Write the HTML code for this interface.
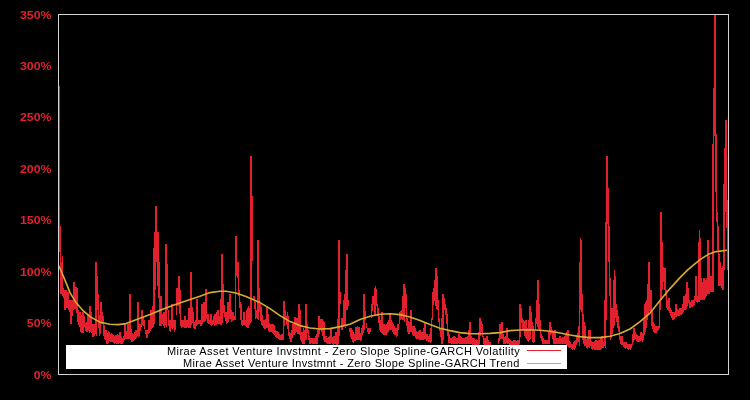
<!DOCTYPE html>
<html><head><meta charset="utf-8"><title>chart</title>
<style>
html,body{margin:0;padding:0;background:#000;}
body{width:750px;height:400px;overflow:hidden;position:relative;font-family:"Liberation Sans",sans-serif;}
svg{position:absolute;left:0;top:0;}
.yl{will-change:transform;position:absolute;left:0;width:51.5px;text-align:right;color:#e3202d;font-weight:bold;font-size:11px;line-height:14px;height:14px;transform:scaleX(1.12);transform-origin:100% 50%;}
.lg{position:absolute;left:66px;top:345px;width:501px;height:24px;background:#fff;}
.lt{position:absolute;right:47px;white-space:nowrap;color:#000;font-size:11px;line-height:13px;letter-spacing:0.40px;will-change:transform;}
</style></head><body>
<svg width="750" height="400" viewBox="0 0 750 400">
<defs><clipPath id="c"><rect x="58" y="14" width="671" height="361"/></clipPath></defs>
<g clip-path="url(#c)" shape-rendering="crispEdges">
<path d="M58 86h1v164h-1zM59 86h1v166h-1zM60 226h1v68h-1zM61 262h1v32h-1zM62 256h1v40h-1zM63 288h1v10h-1zM64 290h1v20h-1zM65 290h1v20h-1zM66 290h1v18h-1zM67 292h1v16h-1zM68 292h1v18h-1zM69 300h1v12h-1zM70 300h1v24h-1zM71 300h1v24h-1zM72 300h1v16h-1zM73 282h1v28h-1zM74 282h1v27h-1zM75 287h1v22h-1zM76 287h1v26h-1zM77 288h1v34h-1zM78 310h1v15h-1zM79 312h1v15h-1zM80 312h1v20h-1zM81 315h1v18h-1zM82 312h1v21h-1zM83 312h1v21h-1zM84 316h1v11h-1zM85 323h1v8h-1zM86 322h1v10h-1zM87 314h1v18h-1zM88 314h1v17h-1zM89 306h1v27h-1zM90 306h1v26h-1zM91 312h1v21h-1zM92 324h1v13h-1zM93 324h1v13h-1zM94 324h1v12h-1zM95 262h1v72h-1zM96 262h1v74h-1zM97 276h1v34h-1zM98 294h1v34h-1zM99 315h1v21h-1zM100 302h1v32h-1zM101 302h1v22h-1zM102 312h1v12h-1zM103 316h1v20h-1zM104 325h1v14h-1zM105 330h1v10h-1zM106 330h1v14h-1zM107 333h1v11h-1zM108 331h1v12h-1zM109 332h1v9h-1zM110 334h1v8h-1zM111 333h1v9h-1zM112 334h1v8h-1zM113 335h1v8h-1zM114 336h1v8h-1zM115 335h1v8h-1zM116 335h1v9h-1zM117 334h1v10h-1zM118 335h1v9h-1zM119 332h1v11h-1zM120 332h1v12h-1zM121 336h1v8h-1zM122 338h1v6h-1zM123 336h1v6h-1zM124 324h1v16h-1zM125 324h1v15h-1zM126 331h1v8h-1zM127 324h1v15h-1zM128 324h1v15h-1zM129 294h1v45h-1zM130 294h1v46h-1zM131 329h1v13h-1zM132 333h1v9h-1zM133 334h1v7h-1zM134 332h1v8h-1zM135 330h1v9h-1zM136 330h1v8h-1zM137 302h1v34h-1zM138 302h1v35h-1zM139 324h1v12h-1zM140 324h1v7h-1zM141 310h1v17h-1zM142 310h1v15h-1zM143 317h1v9h-1zM144 320h1v9h-1zM145 330h1v4h-1zM146 330h1v8h-1zM147 330h1v8h-1zM148 320h1v14h-1zM149 320h1v13h-1zM150 310h1v21h-1zM151 310h1v19h-1zM152 306h1v22h-1zM153 248h1v79h-1zM154 232h1v92h-1zM155 206h1v84h-1zM156 206h1v56h-1zM157 232h1v54h-1zM158 232h1v66h-1zM159 262h1v64h-1zM160 296h1v30h-1zM161 296h1v30h-1zM162 314h1v10h-1zM163 312h1v14h-1zM164 312h1v16h-1zM165 244h1v81h-1zM166 244h1v83h-1zM167 264h1v46h-1zM168 310h1v16h-1zM169 320h1v11h-1zM170 320h1v12h-1zM171 304h1v24h-1zM172 304h1v25h-1zM173 320h1v8h-1zM174 320h1v12h-1zM175 320h1v10h-1zM176 288h1v27h-1zM177 288h1v18h-1zM178 276h1v30h-1zM179 276h1v38h-1zM180 290h1v36h-1zM181 320h1v8h-1zM182 320h1v7h-1zM183 320h1v7h-1zM184 316h1v12h-1zM185 316h1v12h-1zM186 320h1v8h-1zM187 320h1v7h-1zM188 308h1v20h-1zM189 308h1v20h-1zM190 272h1v56h-1zM191 272h1v53h-1zM192 307h1v16h-1zM193 312h1v16h-1zM194 322h1v7h-1zM195 320h1v9h-1zM196 299h1v27h-1zM197 299h1v26h-1zM198 320h1v4h-1zM199 320h1v4h-1zM200 320h1v6h-1zM201 304h1v22h-1zM202 304h1v20h-1zM203 302h1v20h-1zM204 302h1v20h-1zM205 289h1v32h-1zM206 289h1v30h-1zM207 314h1v9h-1zM208 314h1v10h-1zM209 320h1v4h-1zM210 314h1v11h-1zM211 314h1v12h-1zM212 320h1v5h-1zM213 316h1v8h-1zM214 314h1v12h-1zM215 314h1v11h-1zM216 312h1v13h-1zM217 310h1v14h-1zM218 310h1v14h-1zM219 316h1v8h-1zM220 299h1v26h-1zM221 254h1v71h-1zM222 254h1v69h-1zM223 284h1v29h-1zM224 305h1v12h-1zM225 312h1v9h-1zM226 312h1v12h-1zM227 302h1v21h-1zM228 302h1v20h-1zM229 294h1v25h-1zM230 294h1v25h-1zM231 310h1v12h-1zM232 312h1v9h-1zM233 312h1v8h-1zM234 316h1v4h-1zM235 236h1v84h-1zM236 236h1v40h-1zM237 262h1v16h-1zM238 262h1v34h-1zM239 290h1v18h-1zM240 302h1v18h-1zM241 304h1v21h-1zM242 320h1v6h-1zM243 312h1v13h-1zM244 312h1v13h-1zM245 320h1v6h-1zM246 310h1v17h-1zM247 308h1v20h-1zM248 306h1v22h-1zM249 308h1v17h-1zM250 156h1v167h-1zM251 156h1v166h-1zM252 196h1v65h-1zM253 296h1v4h-1zM254 296h1v13h-1zM255 302h1v17h-1zM256 310h1v8h-1zM257 240h1v79h-1zM258 240h1v80h-1zM259 288h1v24h-1zM260 304h1v17h-1zM261 307h1v18h-1zM262 315h1v11h-1zM263 320h1v8h-1zM264 320h1v9h-1zM265 319h1v10h-1zM266 306h1v22h-1zM267 306h1v22h-1zM268 314h1v17h-1zM269 323h1v9h-1zM270 324h1v8h-1zM271 324h1v8h-1zM272 324h1v9h-1zM273 324h1v10h-1zM274 325h1v10h-1zM275 330h1v7h-1zM276 331h1v7h-1zM277 331h1v7h-1zM278 332h1v7h-1zM279 334h1v6h-1zM280 335h1v5h-1zM281 334h1v6h-1zM282 334h1v6h-1zM283 301h1v39h-1zM284 301h1v25h-1zM285 310h1v10h-1zM286 316h1v9h-1zM287 312h1v17h-1zM288 316h1v20h-1zM289 332h1v7h-1zM290 333h1v9h-1zM291 330h1v12h-1zM292 324h1v14h-1zM293 324h1v11h-1zM294 317h1v18h-1zM295 317h1v16h-1zM296 318h1v14h-1zM297 318h1v16h-1zM298 304h1v30h-1zM299 304h1v31h-1zM300 310h1v30h-1zM301 332h1v10h-1zM302 332h1v12h-1zM303 328h1v16h-1zM304 330h1v14h-1zM305 304h1v36h-1zM306 304h1v36h-1zM307 324h1v9h-1zM308 330h1v10h-1zM309 336h1v8h-1zM310 338h1v6h-1zM311 338h1v5h-1zM312 338h1v6h-1zM313 338h1v6h-1zM314 338h1v6h-1zM315 336h1v8h-1zM316 334h1v10h-1zM317 330h1v14h-1zM318 316h1v21h-1zM319 316h1v18h-1zM320 319h1v11h-1zM321 319h1v13h-1zM322 319h1v17h-1zM323 321h1v19h-1zM324 322h1v20h-1zM325 336h1v6h-1zM326 336h1v7h-1zM327 338h1v6h-1zM328 337h1v7h-1zM329 336h1v8h-1zM330 328h1v16h-1zM331 328h1v15h-1zM332 337h1v7h-1zM333 336h1v9h-1zM334 336h1v8h-1zM335 332h1v12h-1zM336 332h1v13h-1zM337 319h1v26h-1zM338 240h1v104h-1zM339 240h1v96h-1zM340 292h1v12h-1zM341 318h1v12h-1zM342 318h1v12h-1zM343 300h1v27h-1zM344 294h1v32h-1zM345 270h1v58h-1zM346 254h1v56h-1zM347 254h1v56h-1zM348 300h1v6h-1zM349 328h1v4h-1zM350 328h1v9h-1zM351 328h1v11h-1zM352 330h1v12h-1zM353 332h1v11h-1zM354 334h1v7h-1zM355 327h1v14h-1zM356 327h1v13h-1zM357 326h1v14h-1zM358 327h1v13h-1zM359 327h1v13h-1zM360 333h1v8h-1zM361 328h1v12h-1zM362 325h1v10h-1zM363 294h1v39h-1zM364 294h1v36h-1zM365 311h1v9h-1zM366 323h1v5h-1zM367 328h1v4h-1zM368 328h1v6h-1zM369 328h1v6h-1zM370 328h1v4h-1zM371 304h1v14h-1zM372 296h1v15h-1zM373 296h1v9h-1zM374 288h1v28h-1zM375 286h1v30h-1zM376 289h1v17h-1zM377 304h1v12h-1zM378 308h1v15h-1zM379 316h1v14h-1zM380 320h1v12h-1zM381 312h1v21h-1zM382 312h1v22h-1zM383 324h1v11h-1zM384 324h1v11h-1zM385 325h1v10h-1zM386 324h1v11h-1zM387 322h1v11h-1zM388 320h1v12h-1zM389 314h1v16h-1zM390 314h1v16h-1zM391 320h1v10h-1zM392 322h1v10h-1zM393 324h1v10h-1zM394 326h1v9h-1zM395 328h1v7h-1zM396 328h1v9h-1zM397 324h1v12h-1zM398 324h1v6h-1zM399 312h1v12h-1zM400 311h1v9h-1zM401 310h1v9h-1zM402 296h1v24h-1zM403 284h1v36h-1zM404 284h1v38h-1zM405 288h1v20h-1zM406 294h1v32h-1zM407 318h1v14h-1zM408 321h1v13h-1zM409 322h1v12h-1zM410 310h1v22h-1zM411 310h1v22h-1zM412 326h1v9h-1zM413 326h1v10h-1zM414 326h1v10h-1zM415 328h1v10h-1zM416 331h1v8h-1zM417 332h1v7h-1zM418 331h1v8h-1zM419 330h1v10h-1zM420 330h1v10h-1zM421 332h1v8h-1zM422 332h1v8h-1zM423 328h1v12h-1zM424 322h1v17h-1zM425 322h1v17h-1zM426 334h1v7h-1zM427 334h1v7h-1zM428 336h1v6h-1zM429 334h1v8h-1zM430 328h1v15h-1zM431 318h1v24h-1zM432 292h1v28h-1zM433 288h1v17h-1zM434 280h1v21h-1zM435 268h1v38h-1zM436 268h1v41h-1zM437 276h1v34h-1zM438 300h1v22h-1zM439 318h1v13h-1zM440 328h1v9h-1zM441 318h1v26h-1zM442 294h1v50h-1zM443 294h1v46h-1zM444 298h1v12h-1zM445 304h1v11h-1zM446 308h1v16h-1zM447 314h1v22h-1zM448 330h1v13h-1zM449 334h1v9h-1zM450 338h1v5h-1zM451 338h1v6h-1zM452 337h1v7h-1zM453 336h1v8h-1zM454 336h1v8h-1zM455 337h1v7h-1zM456 338h1v6h-1zM457 338h1v6h-1zM458 334h1v9h-1zM459 334h1v10h-1zM460 336h1v8h-1zM461 337h1v7h-1zM462 338h1v6h-1zM463 338h1v6h-1zM464 338h1v6h-1zM465 337h1v7h-1zM466 337h1v7h-1zM467 336h1v8h-1zM468 330h1v14h-1zM469 322h1v22h-1zM470 322h1v22h-1zM471 336h1v8h-1zM472 338h1v7h-1zM473 338h1v6h-1zM474 338h1v7h-1zM475 340h1v5h-1zM476 339h1v6h-1zM477 340h1v5h-1zM478 332h1v13h-1zM479 318h1v26h-1zM480 318h1v18h-1zM481 321h1v11h-1zM482 324h1v13h-1zM483 336h1v8h-1zM484 338h1v7h-1zM485 338h1v7h-1zM486 336h1v9h-1zM487 336h1v10h-1zM488 340h1v6h-1zM489 342h1v5h-1zM490 342h1v6h-1zM491 345h1v3h-1zM492 346h1v3h-1zM493 347h1v2h-1zM494 347h1v3h-1zM495 347h1v3h-1zM496 346h1v4h-1zM497 346h1v2h-1zM498 338h1v6h-1zM499 324h1v17h-1zM500 324h1v15h-1zM501 322h1v17h-1zM502 322h1v17h-1zM503 334h1v10h-1zM504 337h1v7h-1zM505 336h1v8h-1zM506 328h1v15h-1zM507 328h1v16h-1zM508 338h1v6h-1zM509 339h1v6h-1zM510 340h1v5h-1zM511 341h1v4h-1zM512 341h1v5h-1zM513 340h1v5h-1zM514 340h1v5h-1zM515 340h1v6h-1zM516 341h1v4h-1zM517 340h1v5h-1zM518 340h1v5h-1zM519 304h1v40h-1zM520 304h1v33h-1zM521 308h1v15h-1zM522 318h1v12h-1zM523 320h1v10h-1zM524 321h1v15h-1zM525 320h1v18h-1zM526 320h1v19h-1zM527 328h1v13h-1zM528 320h1v22h-1zM529 306h1v34h-1zM530 306h1v33h-1zM531 312h1v17h-1zM532 322h1v20h-1zM533 326h1v17h-1zM534 330h1v12h-1zM535 318h1v12h-1zM536 300h1v24h-1zM537 280h1v47h-1zM538 280h1v49h-1zM539 304h1v27h-1zM540 320h1v18h-1zM541 334h1v7h-1zM542 336h1v8h-1zM543 338h1v6h-1zM544 340h1v4h-1zM545 340h1v4h-1zM546 340h1v4h-1zM547 340h1v4h-1zM548 332h1v12h-1zM549 322h1v22h-1zM550 322h1v13h-1zM551 327h1v7h-1zM552 330h1v9h-1zM553 331h1v13h-1zM554 330h1v14h-1zM555 330h1v14h-1zM556 338h1v6h-1zM557 338h1v6h-1zM558 338h1v6h-1zM559 336h1v8h-1zM560 336h1v8h-1zM561 338h1v6h-1zM562 337h1v7h-1zM563 337h1v7h-1zM564 336h1v8h-1zM565 334h1v10h-1zM566 332h1v14h-1zM567 330h1v16h-1zM568 330h1v17h-1zM569 341h1v7h-1zM570 342h1v6h-1zM571 344h1v5h-1zM572 344h1v6h-1zM573 342h1v7h-1zM574 341h1v9h-1zM575 340h1v8h-1zM576 336h1v9h-1zM577 333h1v10h-1zM578 326h1v16h-1zM579 262h1v84h-1zM580 238h1v72h-1zM581 240h1v72h-1zM582 294h1v46h-1zM583 314h1v30h-1zM584 322h1v24h-1zM585 326h1v20h-1zM586 339h1v9h-1zM587 338h1v11h-1zM588 330h1v17h-1zM589 330h1v18h-1zM590 330h1v16h-1zM591 341h1v8h-1zM592 342h1v8h-1zM593 342h1v7h-1zM594 341h1v9h-1zM595 340h1v10h-1zM596 340h1v10h-1zM597 341h1v9h-1zM598 340h1v10h-1zM599 340h1v10h-1zM600 338h1v12h-1zM601 336h1v13h-1zM602 336h1v12h-1zM603 342h1v6h-1zM604 300h1v46h-1zM605 222h1v126h-1zM606 156h1v164h-1zM607 156h1v68h-1zM608 188h1v74h-1zM609 226h1v70h-1zM610 278h1v62h-1zM611 308h1v30h-1zM612 308h1v26h-1zM613 280h1v48h-1zM614 270h1v56h-1zM615 276h1v42h-1zM616 304h1v18h-1zM617 310h1v18h-1zM618 316h1v16h-1zM619 326h1v14h-1zM620 336h1v8h-1zM621 336h1v9h-1zM622 336h1v9h-1zM623 342h1v5h-1zM624 342h1v6h-1zM625 342h1v7h-1zM626 342h1v6h-1zM627 344h1v5h-1zM628 344h1v6h-1zM629 344h1v5h-1zM630 344h1v6h-1zM631 344h1v4h-1zM632 334h1v11h-1zM633 328h1v14h-1zM634 328h1v12h-1zM635 332h1v7h-1zM636 334h1v7h-1zM637 335h1v7h-1zM638 336h1v6h-1zM639 336h1v6h-1zM640 332h1v9h-1zM641 332h1v9h-1zM642 333h1v9h-1zM643 320h1v20h-1zM644 304h1v31h-1zM645 302h1v30h-1zM646 300h1v28h-1zM647 284h1v36h-1zM648 262h1v52h-1zM649 262h1v49h-1zM650 290h1v21h-1zM651 290h1v36h-1zM652 310h1v19h-1zM653 322h1v10h-1zM654 324h1v9h-1zM655 326h1v7h-1zM656 326h1v7h-1zM657 326h1v5h-1zM658 326h1v4h-1zM659 300h1v28h-1zM660 212h1v98h-1zM661 212h1v88h-1zM662 242h1v48h-1zM663 267h1v15h-1zM664 268h1v22h-1zM665 268h1v28h-1zM666 290h1v18h-1zM667 300h1v10h-1zM668 298h1v13h-1zM669 298h1v15h-1zM670 308h1v8h-1zM671 310h1v8h-1zM672 312h1v8h-1zM673 312h1v8h-1zM674 312h1v7h-1zM675 304h1v13h-1zM676 304h1v13h-1zM677 309h1v7h-1zM678 310h1v6h-1zM679 308h1v8h-1zM680 308h1v7h-1zM681 308h1v7h-1zM682 304h1v10h-1zM683 296h1v16h-1zM684 296h1v14h-1zM685 294h1v16h-1zM686 282h1v27h-1zM687 282h1v24h-1zM688 288h1v15h-1zM689 300h1v8h-1zM690 302h1v6h-1zM691 300h1v7h-1zM692 300h1v7h-1zM693 300h1v6h-1zM694 296h1v9h-1zM695 276h1v25h-1zM696 276h1v26h-1zM697 296h1v7h-1zM698 242h1v60h-1zM699 230h1v72h-1zM700 238h1v62h-1zM701 278h1v22h-1zM702 282h1v18h-1zM703 278h1v22h-1zM704 278h1v22h-1zM705 280h1v18h-1zM706 278h1v18h-1zM707 240h1v54h-1zM708 240h1v54h-1zM709 256h1v38h-1zM710 276h1v16h-1zM711 276h1v16h-1zM712 144h1v148h-1zM713 88h1v204h-1zM714 14h1v122h-1zM715 14h1v178h-1zM716 134h1v88h-1zM717 212h1v38h-1zM718 226h1v60h-1zM719 254h1v32h-1zM720 262h1v24h-1zM721 268h1v20h-1zM722 266h1v24h-1zM723 184h1v106h-1zM724 148h1v122h-1zM725 120h1v92h-1zM726 120h1v108h-1zM727 200h1v70h-1zM728 194h1v76h-1z" fill="#e3202d"/>
</g>
<g clip-path="url(#c)"><polyline points="58.0,264.6 61.0,270.6 66.0,282.6 70.0,292.6 76.0,302.6 82.0,309.6 90.0,316.6 100.0,322.2 110.0,324.2 118.0,324.6 126.0,323.6 134.0,320.6 150.0,314.6 162.0,309.6 174.0,305.0 190.0,299.6 200.0,296.2 210.0,292.6 220.0,291.2 226.0,291.2 236.0,293.0 246.0,296.6 260.0,302.6 270.0,308.6 280.0,315.6 290.0,321.6 300.0,325.6 310.0,328.0 320.0,329.0 330.0,328.6 340.0,326.6 350.0,324.2 360.0,319.6 370.0,316.2 380.0,314.2 390.0,313.8 400.0,314.6 410.0,317.0 420.0,320.6 430.0,324.6 440.0,328.2 450.0,330.6 460.0,332.6 470.0,333.6 480.0,333.8 490.0,333.4 500.0,332.6 510.0,330.6 520.0,330.0 530.0,329.8 540.0,330.2 550.0,331.2 560.0,333.0 570.0,335.0 580.0,336.6 590.0,337.6 600.0,337.6 610.0,336.2 620.0,333.6 630.0,329.0 640.0,321.6 650.0,313.1 660.0,300.6 670.0,288.6 680.0,277.6 688.0,269.6 694.0,264.6 700.0,259.6 708.0,254.6 716.0,251.6 727.0,250.2" fill="none" stroke="#d6ac30" stroke-width="1.6" stroke-linejoin="round"/></g>
<rect x="58.5" y="14.5" width="670" height="360" fill="none" stroke="#d4d4d4" stroke-width="1" shape-rendering="crispEdges"/>
</svg>
<div class="yl" style="top:7.5px">350%</div><div class="yl" style="top:58.9px">300%</div><div class="yl" style="top:110.4px">250%</div><div class="yl" style="top:161.8px">200%</div><div class="yl" style="top:213.2px">150%</div><div class="yl" style="top:264.6px">100%</div><div class="yl" style="top:316.1px">50%</div><div class="yl" style="top:367.5px">0%</div>
<div class="lg">
<div class="lt" style="top:0px">Mirae Asset Venture Invstmnt - Zero Slope Spline-GARCH Volatility</div>
<div class="lt" style="top:12px;letter-spacing:0.365px;right:47.5px">Mirae Asset Venture Invstmnt - Zero Slope Spline-GARCH Trend</div>
<svg width="501" height="24" style="left:0;top:0" shape-rendering="crispEdges"><line x1="461" x2="495" y1="5.5" y2="5.5" stroke="#e3202d" stroke-width="1"/><line x1="461" x2="495" y1="18.5" y2="18.5" stroke="#d6ac30" stroke-width="1"/></svg>
</div>
</body></html>
